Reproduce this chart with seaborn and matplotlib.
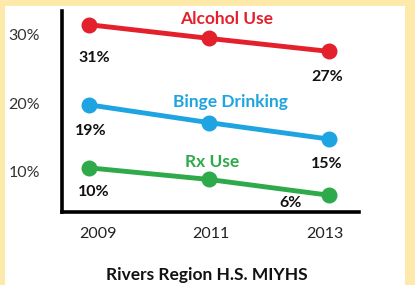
import matplotlib
matplotlib.use("Agg")
import matplotlib.pyplot as plt
import matplotlib.transforms as mtransforms
import seaborn as sns
import pandas as pd
from matplotlib.patches import Rectangle

years = [2009, 2011, 2013]
alcohol = [31.5, 29.5, 27.6]
binge = [19.8, 17.2, 14.8]
rx = [10.6, 8.9, 6.6]
alcohol_labels = ["31%", "", "27%"]
binge_labels = ["19%", "", "15%"]
rx_labels = ["10%", "", "6%"]
series_names = ["Alcohol Use", "Binge Drinking", "Rx Use"]
ytick_vals = [10, 20, 30]
ytick_labels = ["10%", "20%", "30%"]
title = "Rivers Region H.S. MIYHS"

df = pd.DataFrame({
    "year": years * 3,
    "value": alcohol + binge + rx,
    "series": [series_names[0]] * 3 + [series_names[1]] * 3 + [series_names[2]] * 3,
})

sns.set_theme(style="white")
plt.rcParams["font.family"] = ["Lato", "DejaVu Sans"]

colors = {"Alcohol Use": "#e3212d", "Binge Drinking": "#1ea4e0", "Rx Use": "#2eaa4a"}

fig = plt.figure(figsize=(4.15, 2.85), dpi=100)
fig.patch.set_facecolor("#fde9a9")
bg = fig.add_axes([0, 0, 1, 1], zorder=-10)
bg.set_axis_off()
bg.set_xlim(0, 415)
bg.set_ylim(285, 0)
bg.add_patch(Rectangle((5, 6), 400, 279, facecolor="white", edgecolor="none"))

ax = fig.add_axes([62 / 415, (285 - 212) / 285, (359 - 62) / 415, (212 - 11) / 285], zorder=1)
ax.set_facecolor("none")

sns.lineplot(data=df, x="year", y="value", hue="series", palette=colors,
             marker="o", markersize=11.5, markeredgewidth=0, linewidth=3.5,
             legend=False, ax=ax)

ax.set_xlim(2008.55, 2013.5)
ax.set_ylim(4.15, 33.5)
ax.set_xticks(years)
ax.set_xticklabels([str(y) for y in years], fontsize=11.5, color="#222222")
ax.set_yticks(ytick_vals)
ax.set_yticklabels(ytick_labels, fontsize=11.5, color="#333333")
ax.tick_params(axis="both", length=0)
ax.tick_params(axis="x", pad=11)
ax.tick_params(axis="y", pad=16)
ax.set_xlabel("")
ax.set_ylabel("")
for s in ["top", "right"]:
    ax.spines[s].set_visible(False)
for s in ["left", "bottom"]:
    ax.spines[s].set_color("black")
    ax.spines[s].set_linewidth(2.6)

# nudge x tick labels horizontally to match the reference placement
shifts = [9, 2, -4]
for lab, dx in zip(ax.get_xticklabels(), shifts):
    lab.set_transform(lab.get_transform() +
                      mtransforms.ScaledTranslation(dx / 100, 0, fig.dpi_scale_trans))

# series names
ax.text(2011.3, 32.4, series_names[0], color=colors["Alcohol Use"], fontsize=12.5,
        fontweight="bold", ha="center", va="center")
ax.text(2011.35, 20.2, series_names[1], color=colors["Binge Drinking"], fontsize=12.5,
        fontweight="bold", ha="center", va="center")
ax.text(2011.05, 11.4, series_names[2], color=colors["Rx Use"], fontsize=12.5,
        fontweight="bold", ha="center", va="center")

def label(xv, yv, txt, dx, dy):
    if txt:
        ax.annotate(txt, (xv, yv), xytext=(dx, dy), textcoords="offset pixels",
                    ha="center", va="center", fontsize=11.5, fontweight="bold",
                    color="#111111")

label(years[0], alcohol[0], alcohol_labels[0], 5, -33)
label(years[2], alcohol[2], alcohol_labels[2], -2, -26)
label(years[0], binge[0], binge_labels[0], 2, -26)
label(years[2], binge[2], binge_labels[2], -2, -25)
label(years[0], rx[0], rx_labels[0], 5, -24)
label(years[2], rx[2], rx_labels[2], -38, -8)

fig.text(207 / 415, 1 - 275 / 285, title, ha="center", va="center",
         fontsize=12.5, fontweight="bold", color="#111111")

fig.savefig("out.png", dpi=100, facecolor=fig.get_facecolor())
